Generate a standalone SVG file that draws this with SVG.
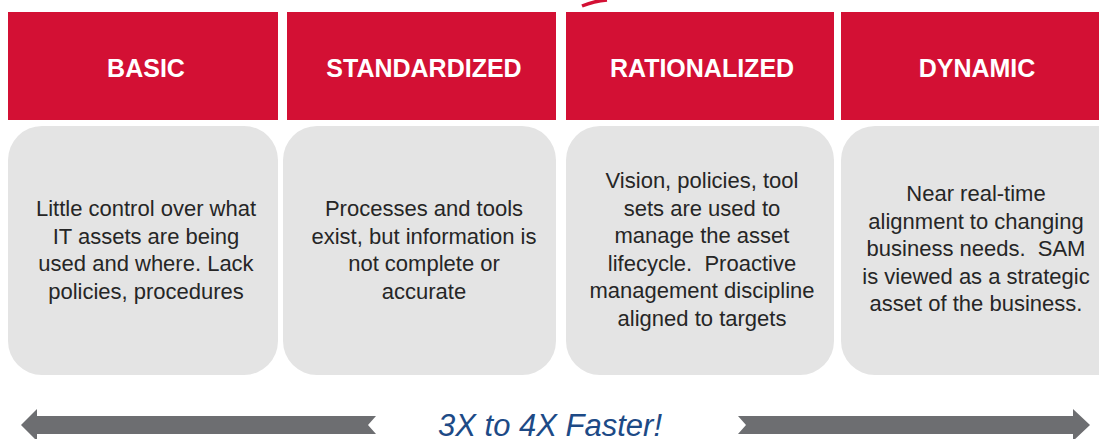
<svg xmlns="http://www.w3.org/2000/svg" width="1099" height="439" viewBox="0 0 1099 439">
<style>
.hdr{fill:#d31034}
.card{fill:#e4e4e4}
.ht{font-family:"Liberation Sans",Arial,sans-serif;font-weight:bold;font-size:25px;fill:#ffffff;text-anchor:middle}
.bt{font-family:"Liberation Sans",Arial,sans-serif;font-size:22px;fill:#262626;text-anchor:middle;white-space:pre}
.arr{fill:#6d6e71}
.tag{font-family:"Liberation Sans",Arial,sans-serif;font-style:italic;font-size:31px;fill:#1d4a86;text-anchor:middle}
</style>
<rect width="1099" height="439" fill="#ffffff"/>
<path d="M582,6 Q594,1 607,0" fill="none" stroke="#d31034" stroke-width="3.5"/>
<g id="basic">
<rect class="hdr" x="8" y="12" width="270" height="108"/>
<text class="ht" x="146" y="77">BASIC</text>
<rect class="card" x="8" y="126" width="270" height="249" rx="34"/>
<text class="bt" x="146" y="216">Little control over what</text>
<text class="bt" x="146" y="243.6">IT assets are being</text>
<text class="bt" x="146" y="271.2">used and where. Lack</text>
<text class="bt" x="146" y="298.8">policies, procedures</text>
</g>
<g id="standardized">
<rect class="hdr" x="287" y="12" width="269" height="108"/>
<text class="ht" x="424" y="77">STANDARDIZED</text>
<rect class="card" x="283" y="126" width="273" height="249" rx="34"/>
<text class="bt" x="424" y="216">Processes and tools</text>
<text class="bt" x="424" y="243.6">exist, but information is</text>
<text class="bt" x="424" y="271.2">not complete or</text>
<text class="bt" x="424" y="298.8">accurate</text>
</g>
<g id="rationalized">
<rect class="hdr" x="566" y="12" width="268" height="108"/>
<text class="ht" x="702" y="77">RATIONALIZED</text>
<rect class="card" x="566" y="126" width="268" height="249" rx="34"/>
<text class="bt" x="702" y="188">Vision, policies, tool</text>
<text class="bt" x="702" y="215.6">sets are used to</text>
<text class="bt" x="702" y="243.2">manage the asset</text>
<text class="bt" x="702" y="270.8">lifecycle.  Proactive</text>
<text class="bt" x="702" y="298.4">management discipline</text>
<text class="bt" x="702" y="326">aligned to targets</text>
</g>
<g id="dynamic">
<rect class="hdr" x="841" y="12" width="270" height="108"/>
<text class="ht" x="977" y="77">DYNAMIC</text>
<rect class="card" x="841" y="126" width="290" height="249" rx="34"/>
<text class="bt" x="976" y="201">Near real-time</text>
<text class="bt" x="976" y="228.6">alignment to changing</text>
<text class="bt" x="976" y="256.2">business needs.  SAM</text>
<text class="bt" x="976" y="283.8">is viewed as a strategic</text>
<text class="bt" x="976" y="311.4">asset of the business.</text>
</g>
<g id="connectors">
<polygon class="arr" points="21,425 37,409 37,416 376,416 368,425 376,434 37,434 37,441"/>
<polygon class="arr" points="738,416 1073,416 1073,409 1090,425 1073,441 1073,434 738,434 746,425"/>
</g>
<text class="tag" x="550" y="436">3X to 4X Faster!</text>
</svg>
